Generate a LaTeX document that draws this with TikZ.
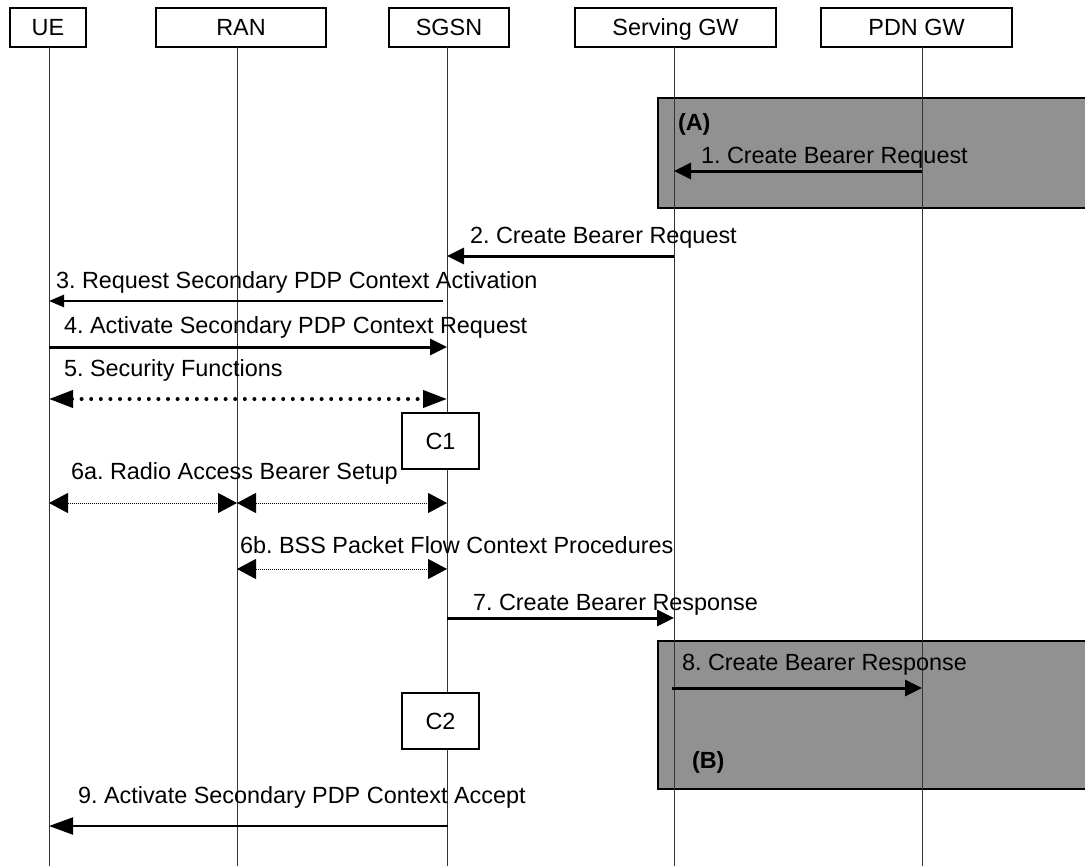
\documentclass[tikz,border=0pt]{standalone}
\usepackage{fontspec}
\setmainfont{Liberation Sans}
\usetikzlibrary{arrows.meta}
\frenchspacing
\begin{document}
\begin{tikzpicture}[x=1bp,y=-1bp,
  every node/.style={font=\fontsize{23.5}{27}\selectfont, inner sep=0pt, outer sep=0pt,
     text height=16.5bp, text depth=4.5bp},
  hdr/.style={draw, line width=1.5bp, minimum height=39bp, anchor=north west, fill=white,
     text depth=0bp},
  cbox/.style={draw, line width=1.5bp, fill=white, minimum width=77bp, minimum height=56bp,
     text depth=0bp},
  grayblk/.style={draw, line width=1.5bp, fill=gray!80!white!95!black},
  life/.style={line width=1bp, draw=black!80},
  lbl/.style={anchor=west},
  msg/.style={line width=3bp, -{Triangle[length=17bp,width=16bp]}},
  msgthin/.style={line width=2.6bp, -{Triangle[length=15bp,width=12bp]}},
  msgnine/.style={line width=2bp, -{Triangle[length=24bp,width=17bp]}},
  secdots/.style={line width=4bp, line cap=round, dash pattern=on 0bp off 9.6bp,
     {Triangle[length=24bp,width=17bp]}-{Triangle[length=24bp,width=17bp]}},
  radiodots/.style={line width=1bp, dash pattern=on 1bp off 1bp,
     {Triangle[length=19bp,width=20bp]}-{Triangle[length=19bp,width=20bp]}},
]
\clip (0,0) rectangle (1085,866);
\fill[white] (0,0) rectangle (1085,866);

% grey areas
\draw[grayblk] (658,98) rectangle (1092,208);
\draw[grayblk] (658,641) rectangle (1092,789);

% headers
\node[hdr, minimum width=76bp] (ue) at (10,8) {UE};
\node[hdr, minimum width=170bp] (ran) at (156,8) {RAN};
\node[hdr, minimum width=120bp] (sgsn) at (389,8) {SGSN};
\node[hdr, minimum width=201bp] (sgw) at (575,8) {Serving GW};
\node[hdr, minimum width=191bp] (pdn) at (821,8) {PDN GW};

% lifeline bottoms
\coordinate (ueB) at (49,866);
\coordinate (ranB) at (237,866);
\coordinate (sgsnB) at (447,866);
\coordinate (sgwB) at (674,866);
\coordinate (pdnB) at (922,866);

\draw[life] (ue.south -| ueB) -- (ueB);
\draw[life] (ran.south -| ranB) -- (ranB);
\draw[life] (sgsn.south -| sgsnB) -- (sgsnB);
\draw[life] (sgw.south -| sgwB) -- (sgwB);
\draw[life] (pdn.south -| pdnB) -- (pdnB);

% boxes C1, C2
\node[cbox] (c1) at (440.5,441) {C1};
\node[cbox] (c2) at (440.5,721) {C2};

% labels
\node[font=\fontsize{23.5}{27}\selectfont\bfseries, lbl] (la) at (678,124) {(A)};
\node[font=\fontsize{23.5}{27}\selectfont\bfseries, lbl] (lb) at (692,762) {(B)};
\node[lbl] (l1) at (701,157) {1. Create Bearer Request};
\node[lbl] (l2) at (470,237) {2. Create Bearer Request};
\node[lbl] (l3) at (56,282) {3. Request Secondary PDP Context Activation};
\node[lbl] (l4) at (64,327) {4. Activate Secondary PDP Context Request};
\node[lbl] (l5) at (64,370) {5. Security Functions};
\node[lbl] (l6a) at (71,473) {6a. Radio Access Bearer Setup};
\node[lbl] (l6b) at (240,547) {6b. BSS Packet Flow Context Procedures};
\node[lbl] (l7) at (473,604) {7. Create Bearer Response};
\node[lbl] (l8) at (682,664) {8. Create Bearer Response};
\node[lbl] (l9) at (78,797) {9. Activate Secondary PDP Context Accept};

% message end points
\coordinate (m1a) at (922,171);  \coordinate (m1b) at (674,171);
\coordinate (m2a) at (674,256);  \coordinate (m2b) at (447,256);
\coordinate (m3a) at (443,301);  \coordinate (m3b) at (49,301);
\coordinate (m4a) at (49,347);   \coordinate (m4b) at (447,347);
\coordinate (m5a) at (49,399);   \coordinate (m5b) at (447,399);
\coordinate (m6aa) at (49,503);  \coordinate (m6ab) at (237,503);
\coordinate (m6ac) at (237,503); \coordinate (m6ad) at (447,503);
\coordinate (m6ba) at (237,569); \coordinate (m6bb) at (447,569);
\coordinate (m7a) at (447,618);  \coordinate (m7b) at (674,618);
\coordinate (m8a) at (672,688);  \coordinate (m8b) at (922,688);
\coordinate (m9a) at (448,826);  \coordinate (m9b) at (49,826);

\draw[msg] (m1a) -- (m1b);
\draw[msg] (m2a) -- (m2b);
\draw[msgthin] (m3a) -- (m3b);
\draw[msg] (m4a) -- (m4b);
\draw[secdots] (m5a) -- (m5b);
\draw[radiodots] (m6aa) -- (m6ab);
\draw[radiodots] (m6ac) -- (m6ad);
\draw[radiodots] (m6ba) -- (m6bb);
\draw[msg] (m7a) -- (m7b);
\draw[msg] (m8a) -- (m8b);
\draw[msgnine] (m9a) -- (m9b);
\end{tikzpicture}
\end{document}
